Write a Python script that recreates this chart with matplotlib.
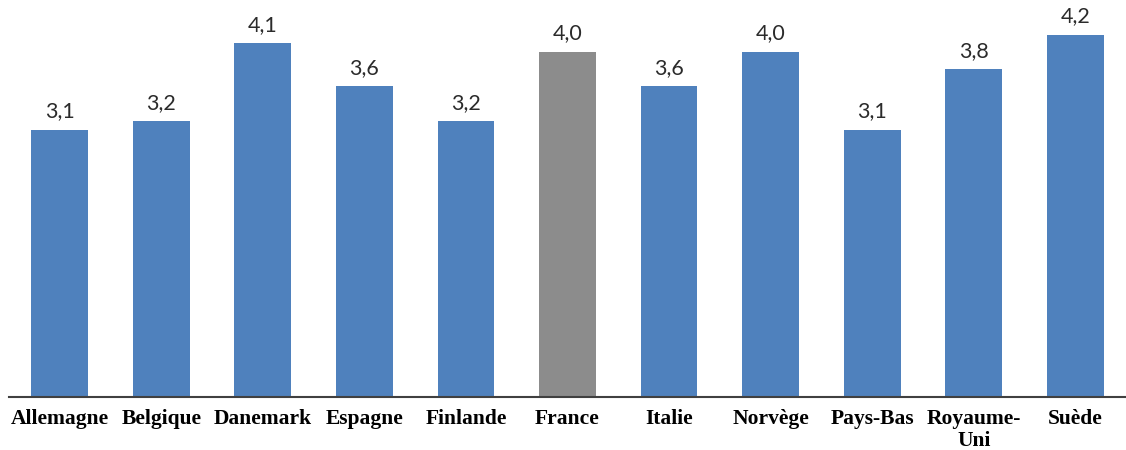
import matplotlib
matplotlib.use("Agg")
import matplotlib.pyplot as plt

pays = ['Allemagne', 'Belgique', 'Danemark', 'Espagne', 'Finlande', 'France',
        'Italie', 'Norvège', 'Pays-Bas', 'Royaume-\nUni', 'Suède']
valeurs = [3.1, 3.2, 4.1, 3.6, 3.2, 4.0, 3.6, 4.0, 3.1, 3.8, 4.2]

bleu = '#4F81BD'
gris = '#8C8C8C'
couleurs = [gris if p == 'France' else bleu for p in pays]

fig = plt.figure(figsize=(11.26, 4.5), dpi=100)
ax = fig.add_axes([0.008, 0.1167, 0.992, 0.8833])

x = range(len(pays))
bars = ax.bar(x, valeurs, width=0.56, color=couleurs)

# étiquettes de valeur au-dessus des barres (virgule décimale)
for b, v in zip(bars, valeurs):
    ax.annotate(f'{v:.1f}'.replace('.', ','),
                (b.get_x() + b.get_width() / 2, b.get_height()),
                xytext=(0, 6), textcoords='offset points',
                ha='center', va='bottom', fontsize=15.5,
                family='Lato', color='#2b2b2b')

ax.set_xlim(-0.5, 10.5)
ax.set_ylim(0, 4.6)
ax.set_xticks(list(x))
ax.set_xticklabels(pays, family='Liberation Serif', fontweight='bold',
                   fontsize=15.5, linespacing=1.15)
ax.tick_params(axis='x', length=0, pad=8)
ax.set_yticks([])

for s in ['top', 'right', 'left']:
    ax.spines[s].set_visible(False)
ax.spines['bottom'].set_color('#404040')
ax.spines['bottom'].set_linewidth(1.5)

fig.savefig('out.png', dpi=100)
